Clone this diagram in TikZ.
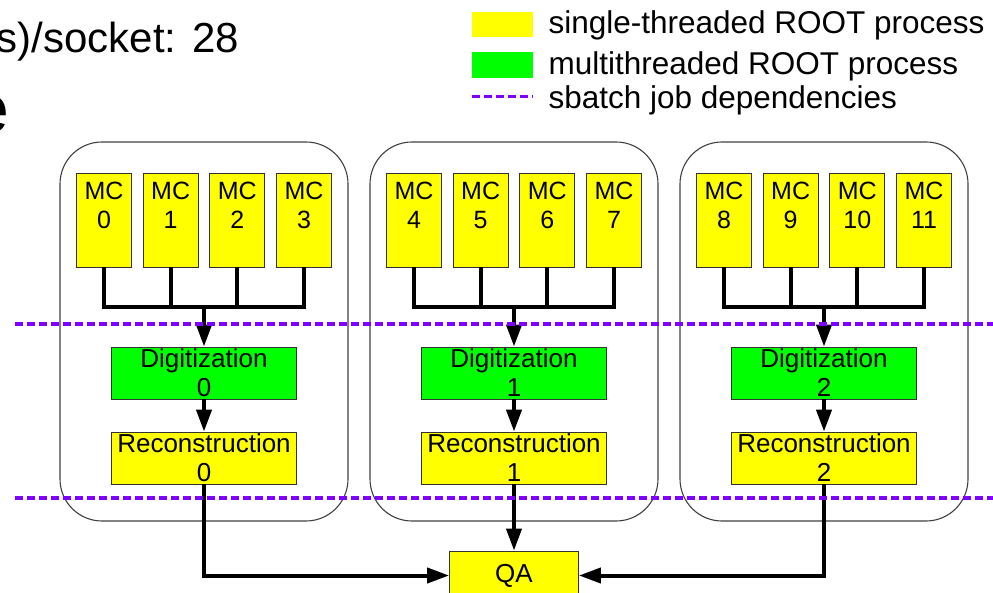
\documentclass[tikz,border=0pt]{standalone}
\usepackage{fontspec}
\setmainfont{Liberation Sans}
\usetikzlibrary{arrows.meta}
\definecolor{stcol}{RGB}{255,255,0}
\definecolor{mtcol}{RGB}{0,255,0}
\definecolor{depcol}{RGB}{127,0,255}

\begin{document}
\begin{tikzpicture}[x=1pt,y=-1pt,
  proc/.style={draw=black!80,line width=0.8pt,inner sep=0pt,align=center,font=\fontsize{26}{29}\selectfont},
  single/.style={proc,fill=stcol},
  multi/.style={proc,fill=mtcol},
  wire/.style={line width=4pt},
  flow/.style={wire,-{Triangle[length=22pt,width=15pt]}},
  dep/.style={depcol,line width=3.5pt,dash pattern=on 8pt off 4pt},
  nodegroup/.style={draw=black!75,line width=1.1pt,rounded corners=42pt},
  keytext/.style={anchor=base west,font=\fontsize{31.5}{36}\selectfont}]
\clip (0,0) rectangle (993,593);
% slide text, cut off at the left
\node[anchor=base east,inner sep=0pt,font=\fontsize{42}{50}\selectfont] (cores) at (239,53) {s)/socket: 28};
\node[anchor=base east,inner sep=0pt,font=\fontsize{68}{80}\selectfont] (title) at (10,133) {e};
% legend
\node[fill=stcol,minimum width=61,minimum height=25,inner sep=0pt] (keyst) at (502.5,24.5) {};
\node[fill=mtcol,minimum width=61,minimum height=26,inner sep=0pt] (keymt) at (502.5,65) {};
\draw[dep,line width=3pt] (472,97) -- (533,97);
\node[keytext] (keysttext) at (545,34) {single-threaded ROOT process};
\node[keytext] (keymttext) at (545,75) {multithreaded ROOT process};
\node[keytext] (keydeptext) at (545,109) {sbatch job dependencies};
% one group per node
\foreach \g in {0,1,2} {
  \pgfmathsetmacro\cx{204+310*\g}
  \draw[nodegroup] (\cx-144,142) rectangle (\cx+144,521);
  \foreach \m in {0,...,3} {
    \pgfmathtruncatemacro\n{4*\g+\m}
    \node[single,font=\fontsize{25}{29}\selectfont,minimum width=55,minimum height=94]
      (mc-\g-\m) at (\cx-100+66.67*\m,220) {MC\\\n\\\mbox{}};
  }
  \coordinate (bus\g) at (\cx,307);
  \node[multi,minimum width=185,minimum height=52] (dig\g) at (\cx,373) {Digitization\\\g};
  \node[single,minimum width=185,minimum height=52] (rec\g) at (\cx,458) {Reconstruction\\\g};
  \draw[wire] (mc-\g-0.south) |- (mc-\g-3.south |- bus\g) -- (mc-\g-3.south);
  \draw[wire] (mc-\g-1.south) -- (mc-\g-1.south |- bus\g);
  \draw[wire] (mc-\g-2.south) -- (mc-\g-2.south |- bus\g);
  \draw[flow] (bus\g) -- (dig\g.north);
  \draw[flow] (dig\g) -- (rec\g);
}
% quality assurance
\node[single,minimum width=129,minimum height=49] (qa) at (514,575.5) {QA};
\draw[flow] (rec0.south) |- (qa.west);
\draw[flow] (rec1.south) -- (qa.north);
\draw[flow] (rec2.south) |- (qa.east);
% job dependencies
\draw[dep] (15,324) -- (993,324);
\draw[dep] (15,498) -- (993,498);
\end{tikzpicture}
\end{document}
